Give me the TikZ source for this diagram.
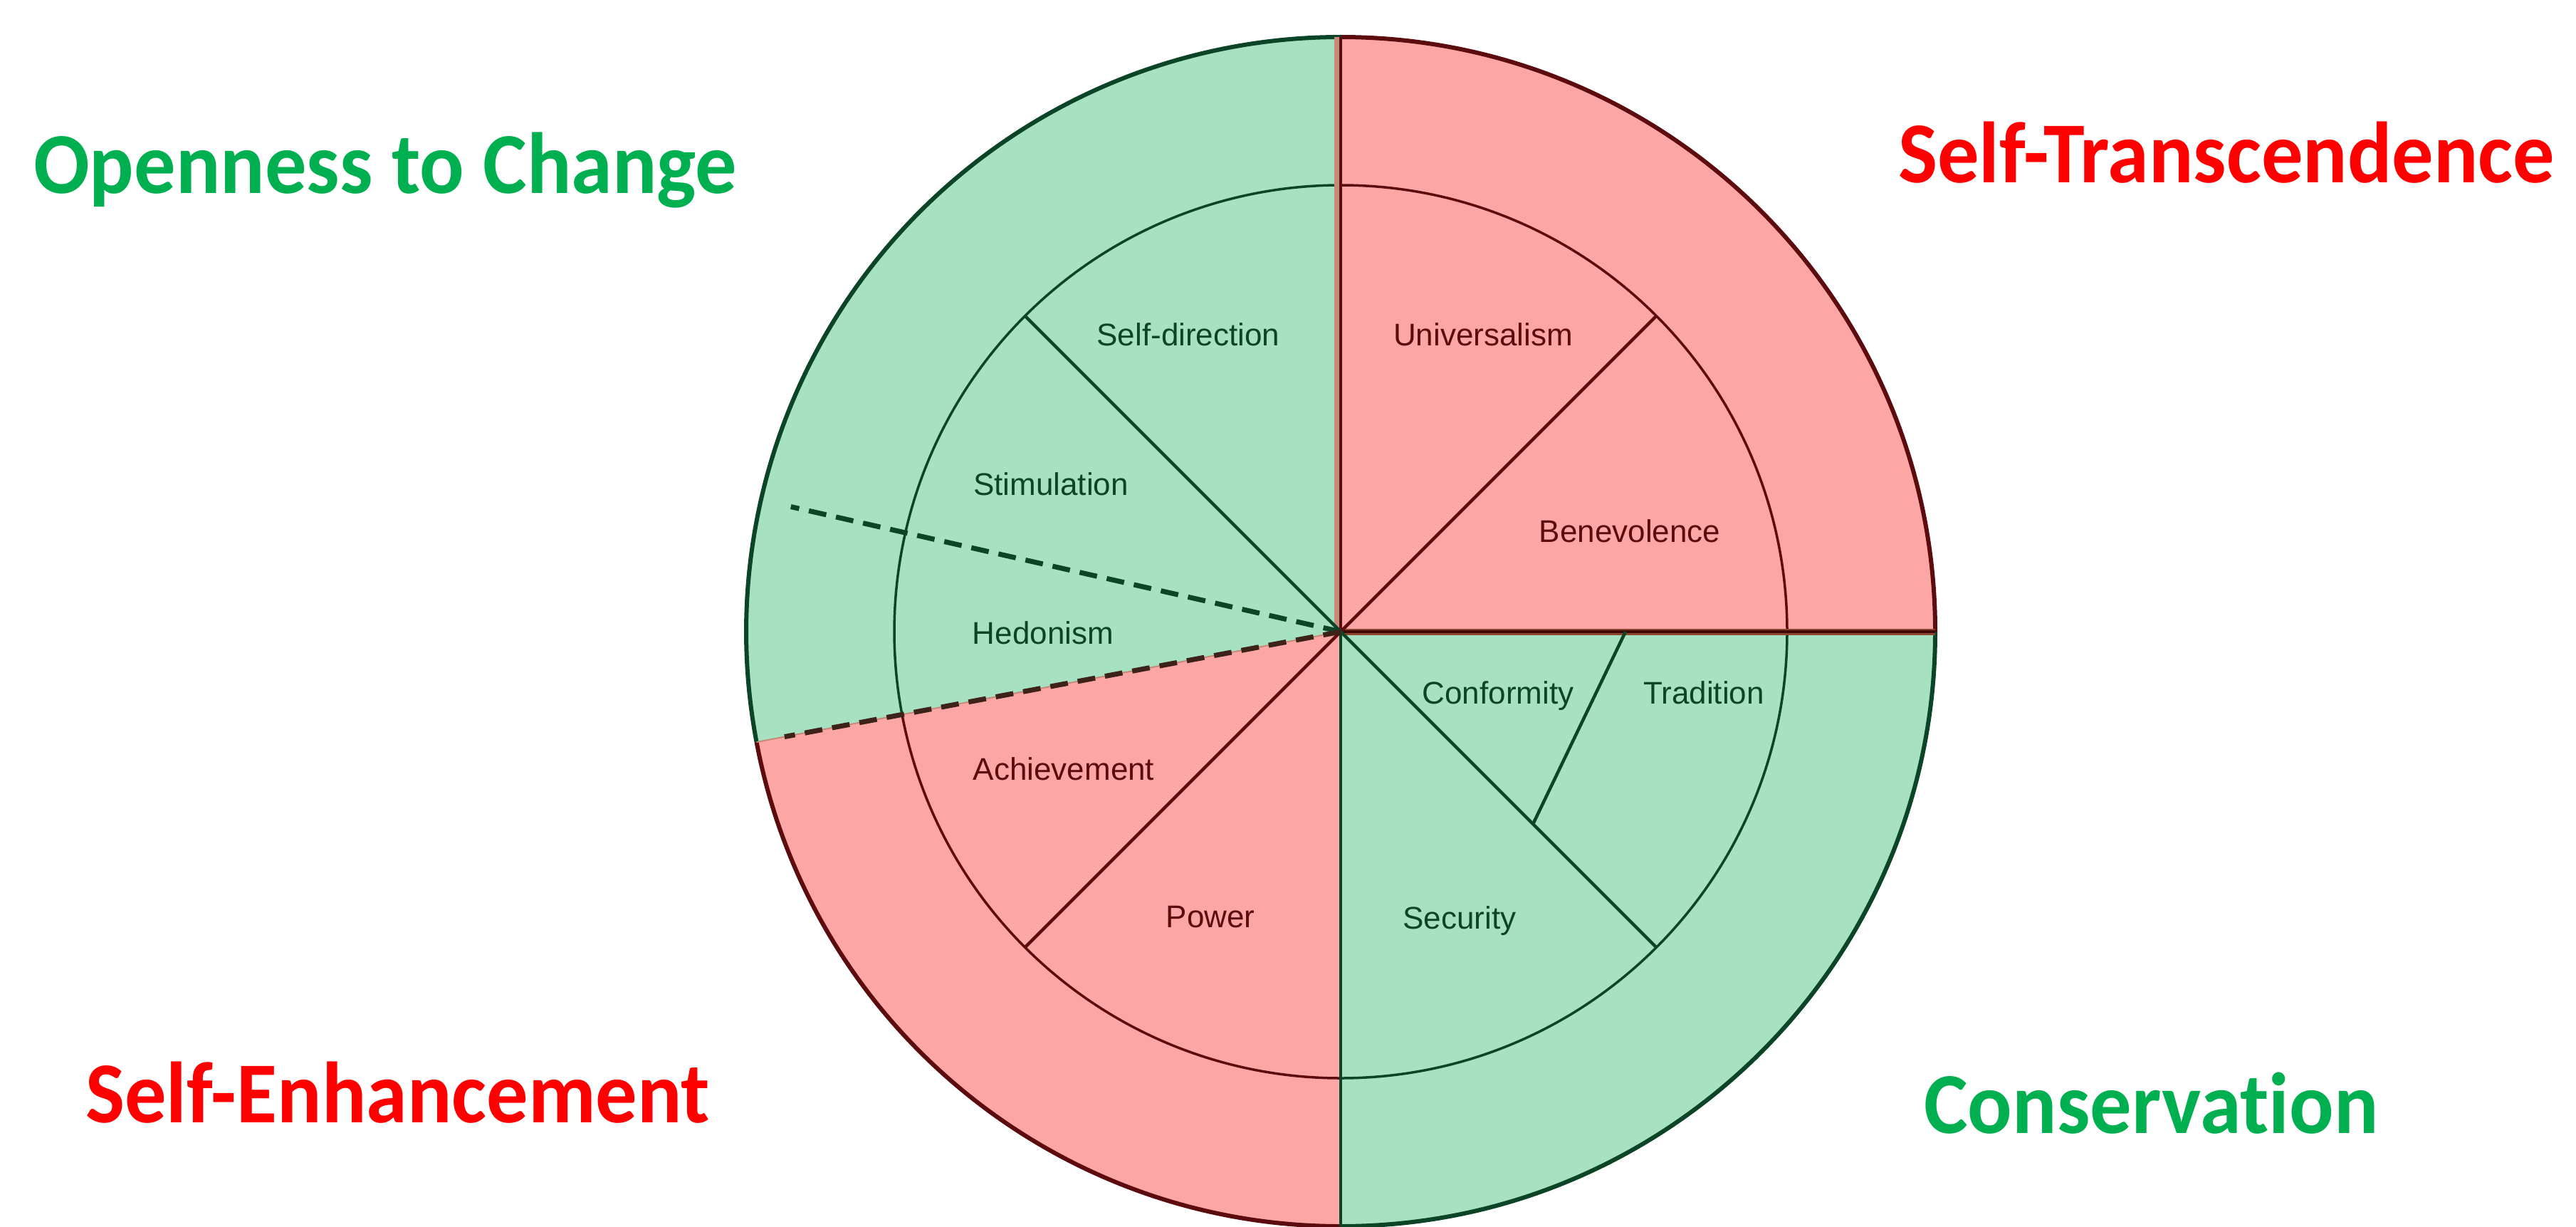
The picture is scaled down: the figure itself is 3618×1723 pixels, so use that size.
\documentclass[tikz,border=0pt]{standalone}
\usepackage{fontspec}
\usepackage{graphicx}
\setmainfont{Liberation Sans}
\newfontfamily\titlefont{Carlito}[Ligatures=NoCommon]
\definecolor{gfill}{RGB}{166,225,194}
\definecolor{rfill}{RGB}{253,166,166}
\definecolor{gline}{RGB}{12,68,40}
\definecolor{rline}{RGB}{92,12,14}
\definecolor{gtitle}{RGB}{0,176,80}
\definecolor{rtitle}{RGB}{255,0,0}
\definecolor{tanline}{RGB}{196,140,120}
\definecolor{brownline}{RGB}{140,70,45}
\newcommand{\squeeze}[1]{\scalebox{0.955}[1]{#1}}
\tikzset{
  titletext/.style={inner sep=0pt, anchor=base west, font=\titlefont\bfseries\fontsize{122}{130}\selectfont},
  valuetext/.style={inner sep=0pt, anchor=base, font=\fontsize{44}{50}\selectfont},
  outerline/.style={line width=6pt},
  innerline/.style={line width=3.5pt},
  spoke/.style={line width=4.5pt},
  dashline/.style={line width=7pt, dash pattern=on 25pt off 14pt}
}
\begin{document}
\begin{tikzpicture}[x=1pt,y=1pt]
\useasboundingbox (0,0) rectangle (3618,-1723);
\fill[white] (0,0) rectangle (3618,-1723);
\coordinate (c) at (1883,-887);
\def\R{835}
\def\r{627}
\def\b{190.7}
% sector fills
\fill[rfill] (c) -- ++(0:\R) arc[start angle=0,end angle=90,radius=\R] -- cycle;
\fill[gfill] (c) -- ++(90:\R) arc[start angle=90,end angle=\b,radius=\R] -- cycle;
\fill[rfill] (c) -- ++(\b:\R) arc[start angle=\b,end angle=270,radius=\R] -- cycle;
\fill[gfill] (c) -- ++(270:\R) arc[start angle=270,end angle=360,radius=\R] -- cycle;
% outer circle
\draw[outerline,rline] (c) ++(0:\R) arc[start angle=0,end angle=90,radius=\R];
\draw[outerline,gline] (c) ++(90:\R) arc[start angle=90,end angle=\b,radius=\R];
\draw[outerline,rline] (c) ++(\b:\R) arc[start angle=\b,end angle=270,radius=\R];
\draw[outerline,gline] (c) ++(270:\R) arc[start angle=270,end angle=360,radius=\R];
% inner circle
\draw[innerline,rline] (c) ++(0:\r) arc[start angle=0,end angle=90,radius=\r];
\draw[innerline,gline] (c) ++(90:\r) arc[start angle=90,end angle=\b,radius=\r];
\draw[innerline,rline] (c) ++(\b:\r) arc[start angle=\b,end angle=270,radius=\r];
\draw[innerline,gline] (c) ++(270:\r) arc[start angle=270,end angle=360,radius=\r];
% quadrant lines
\draw[line width=10pt,tanline] ([xshift=-4pt]c) -- ++(90:\R);
\draw[spoke,rline] (c) -- ++(90:\R);
\draw[line width=9pt,brownline] (c) -- ++(0:\R);
\draw[spoke,rline!70!black] (c) -- ++(0:\R);
\draw[spoke,gline] (c) -- ++(270:\R);
% inner spokes
\draw[spoke,rline] (c) -- ++(45:\r);
\draw[spoke,gline] (c) -- ++(135:\r);
\draw[spoke,rline] (c) -- ++(225:\r);
\draw[spoke,gline] (c) -- ++(315:\r);
\coordinate (ct) at ([shift={(0:400)}]c);
\coordinate (cb) at ([shift={(315:382)}]c);
\draw[spoke,gline] (ct) -- (cb);
% dashed borders
\draw[line width=2pt,tanline] (c) -- ++(\b:\R);
\draw[dashline,gline] (c) -- ++(167.2:792);
\draw[dashline,rline!60!gline] (c) -- ++(\b:795);
% value labels
\node[valuetext,gline] (sd) at (1669,-485) {Self-direction};
\node[valuetext,rline] (un) at (2083,-485) {Universalism};
\node[valuetext,gline] (st) at (1476,-695) {Stimulation};
\node[valuetext,rline] (be) at (2289,-761) {Benevolence};
\node[valuetext,gline] (he) at (1465,-904) {Hedonism};
\node[valuetext,gline] (co) at (2104,-988) {Conformity};
\node[valuetext,gline] (tr) at (2393,-988) {Tradition};
\node[valuetext,rline] (ac) at (1494,-1095) {Achievement};
\node[valuetext,rline] (po) at (1700,-1302) {Power};
\node[valuetext,gline] (se) at (2050,-1304) {Security};
% titles
\node[titletext,gtitle] (open) at (47,-271) {\squeeze{Openness to Change}};
\node[titletext,rtitle] (trans) at (2666,-256) {\squeeze{Self-Transcendence}};
\node[titletext,rtitle] (enh) at (120,-1576) {\squeeze{Self-Enhancement}};
\node[titletext,gtitle] (cons) at (2702,-1591) {\squeeze{Conservation}};
\end{tikzpicture}
\end{document}
